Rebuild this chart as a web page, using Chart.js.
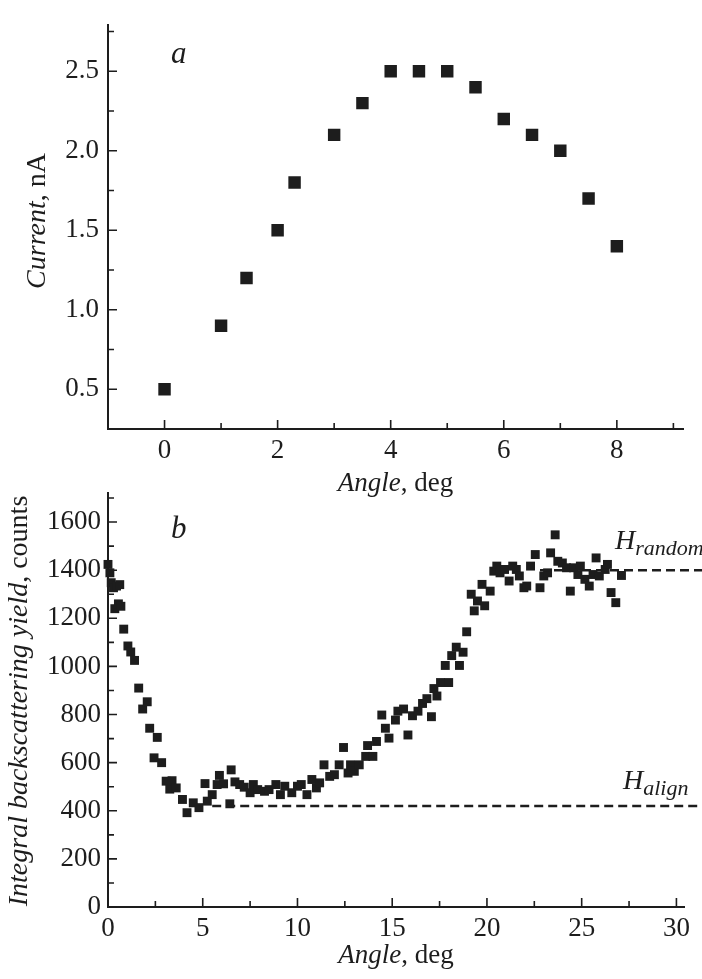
<!DOCTYPE html>
<html>
<head>
<meta charset="utf-8">
<script src="https://cdn.jsdelivr.net/npm/chart.js@4.4.0/dist/chart.umd.min.js"></script>
<style>
  html, body { margin: 0; padding: 0; background: #fff; }
  #wrap { position: relative; width: 702px; height: 979px; overflow: hidden; }
  canvas { position: absolute; left: 0; }
  #top { top: 0; }
  #bottom { top: 470px; }
</style>
</head>
<body>
<div id="wrap">
  <canvas id="top" width="702" height="500" style="width:702px;height:500px"></canvas>
  <canvas id="bottom" width="702" height="509" style="width:702px;height:509px"></canvas>
</div>
<script>
// panel a: current vs angle
const aAngle = [0, 1, 1.45, 2, 2.3, 3, 3.5, 4, 4.5, 5, 5.5, 6, 6.5, 7, 7.5, 8];
const aCurrent = [0.5, 0.9, 1.2, 1.5, 1.8, 2.1, 2.3, 2.5, 2.5, 2.5, 2.4, 2.2, 2.1, 2.0, 1.7, 1.4];
const aXMajor = [0, 2, 4, 6, 8];
const aXMinor = [1, 3, 5, 7, 9];
const aYMajor = [0.5, 1.0, 1.5, 2.0, 2.5];
const aYMinor = [0.75, 1.25, 1.75, 2.25, 2.75];

// panel b: backscattering yield vs angle
const bAngle = [
  0.0, 0.1, 0.17, 0.29, 0.36, 0.45, 0.55, 0.62, 0.68, 0.83, 1.05, 1.2, 1.4, 1.62, 1.83, 2.07,
  2.2, 2.43, 2.6, 2.83, 3.07, 3.26, 3.38, 3.6, 3.93, 4.17, 4.5, 4.8, 5.12, 5.24, 5.5, 5.76,
  5.88, 6.1, 6.43, 6.5, 6.7, 6.95, 7.19, 7.5, 7.67, 7.9, 8.26, 8.5, 8.86, 9.1, 9.33, 9.7,
  10.0, 10.2, 10.5, 10.76, 11.0, 11.17, 11.4, 11.7, 11.95, 12.2, 12.43, 12.67, 12.8, 13.0,
  13.26, 13.6, 13.7, 13.98, 14.17, 14.45, 14.64, 14.83, 15.17, 15.3, 15.6, 15.83, 16.07,
  16.36, 16.6, 16.83, 17.07, 17.2, 17.36, 17.55, 17.8, 17.98, 18.14, 18.38, 18.55, 18.74,
  18.93, 19.17, 19.33, 19.5, 19.74, 19.88, 20.17, 20.36, 20.52, 20.69, 20.93, 21.17, 21.36,
  21.55, 21.71, 21.95, 22.1, 22.3, 22.55, 22.8, 23.0, 23.2, 23.36, 23.6, 23.74, 23.98, 24.2,
  24.4, 24.57, 24.8, 24.93, 25.17, 25.4, 25.6, 25.76, 25.93, 26.24, 26.36, 26.55, 26.8, 27.1
];
const bYield = [
  1424, 1389, 1348, 1327, 1240, 1334, 1260, 1340, 1250, 1155, 1085, 1060, 1025, 910, 823, 853,
  743, 620, 705, 600, 523, 490, 525, 495, 447, 392, 433, 413, 513, 440, 467, 509,
  547, 512, 429, 570, 520, 509, 498, 475, 509, 488, 481, 488, 509, 467, 502, 475,
  502, 509, 467, 530, 495, 516, 591, 543, 550, 591, 663, 557, 591, 564,
  591, 626, 671, 626, 688, 798, 743, 702, 777, 814, 823, 715, 795,
  814, 846, 866, 791, 908, 877, 933, 1004, 933, 1045, 1080, 1004, 1059,
  1144, 1300, 1231, 1272, 1341, 1252, 1313, 1396, 1417, 1389, 1403, 1355, 1417,
  1403, 1376, 1327, 1334, 1417, 1465, 1327, 1376, 1389, 1472, 1547, 1437, 1430, 1410,
  1313, 1410, 1382, 1417, 1362, 1334, 1382, 1451, 1376, 1403, 1424, 1307, 1265, 1378
];
const hRandom = 1400;
const hRandomAngle = [22.8, 31.4];
const hAlign = 420;
const hAlignAngle = [5.5, 31.4];
const bXMajor = [0, 5, 10, 15, 20, 25, 30];
const bXMinor = [2.5, 7.5, 12.5, 17.5, 22.5, 27.5];
const bYMajor = [0, 200, 400, 600, 800, 1000, 1200, 1400, 1600];
const bYMinor = [100, 300, 500, 700, 900, 1100, 1300, 1500, 1700];

const INK = "#1d1d1d";
const SERIF = '"Liberation Serif", "DejaVu Serif", serif';
const TICK_FONT = { family: SERIF, size: 27 };

function font(style, size) {
  return `${style} ${size}px ${SERIF}`;
}

// draws mixed italic / upright pieces one after another
function drawRuns(ctx, runs, x, y, align) {
  let total = 0;
  runs.forEach((r) => {
    ctx.font = font(r.style, r.size);
    r.w = ctx.measureText(r.text).width;
    total += r.w;
  });
  let cx = align === "center" ? x - total / 2 : x;
  runs.forEach((r) => {
    ctx.font = font(r.style, r.size);
    ctx.fillText(r.text, cx, y + (r.dy || 0));
    cx += r.w;
  });
}

// inward ticks, axis titles and labels
const framePlugin = {
  id: "frame",
  beforeDatasetsDraw(chart, args, opts) {
    const { ctx } = chart;
    const x = chart.scales.x;
    const y = chart.scales.y;
    const area = chart.chartArea;
    ctx.save();
    ctx.strokeStyle = INK;
    ctx.lineWidth = 1.6;
    ctx.beginPath();
    const xTick = (v, len) => {
      const px = x.getPixelForValue(v);
      ctx.moveTo(px, area.bottom);
      ctx.lineTo(px, area.bottom - len);
    };
    const yTick = (v, len) => {
      const py = y.getPixelForValue(v);
      ctx.moveTo(area.left, py);
      ctx.lineTo(area.left + len, py);
    };
    opts.xMajor.forEach((v) => xTick(v, 9));
    opts.xMinor.forEach((v) => xTick(v, 6));
    opts.yMajor.forEach((v) => yTick(v, 9));
    opts.yMinor.forEach((v) => yTick(v, 6));
    ctx.stroke();
    ctx.restore();
  },
  afterDraw(chart, args, opts) {
    const { ctx } = chart;
    const area = chart.chartArea;
    ctx.save();
    ctx.fillStyle = INK;
    ctx.textBaseline = "middle";
    drawRuns(ctx, opts.xTitle, (area.left + area.right) / 2, opts.xTitleY, "center");
    ctx.translate(opts.yTitleX, opts.yTitleY);
    ctx.rotate(-Math.PI / 2);
    drawRuns(ctx, opts.yTitle, 0, 0, "center");
    ctx.restore();

    ctx.save();
    ctx.fillStyle = INK;
    ctx.textBaseline = "alphabetic";
    opts.notes.forEach((n) => drawRuns(ctx, n.runs, n.x, n.y, "left"));
    ctx.restore();
  },
};

function axis(min, max, major, fmt, pad, fit) {
  return {
    type: "linear",
    min,
    max,
    grid: { display: false, drawTicks: false },
    border: { display: true, color: INK, width: 2 },
    ticks: { color: INK, font: TICK_FONT, padding: pad, callback: fmt },
    afterBuildTicks: (scale) => {
      scale.ticks = major.map((v) => ({ value: v }));
    },
    afterFit: fit,
  };
}

const angleTitle = [
  { text: "Angle", style: "italic", size: 27 },
  { text: ", deg", style: "normal", size: 27 },
];

new Chart(document.getElementById("top"), {
  type: "scatter",
  data: {
    datasets: [
      {
        label: "current",
        data: aAngle.map((v, i) => ({ x: v, y: aCurrent[i] })),
        pointStyle: "rect",
        pointRadius: 8.8,
        pointBorderWidth: 0,
        backgroundColor: INK,
      },
    ],
  },
  options: {
    responsive: false,
    animation: false,
    events: [],
    layout: { padding: { left: 0, top: 13, right: 19, bottom: 0 } },
    plugins: {
      legend: { display: false },
      tooltip: { enabled: false },
      frame: {
        xMajor: aXMajor,
        xMinor: aXMinor,
        yMajor: aYMajor,
        yMinor: aYMinor,
        xTitle: angleTitle,
        xTitleY: 484,
        yTitle: [
          { text: "Current", style: "italic", size: 28 },
          { text: ", nA", style: "normal", size: 28 },
        ],
        yTitleX: 38,
        yTitleY: 221,
        notes: [{ x: 171, y: 63, runs: [{ text: "a", style: "italic", size: 31 }] }],
      },
    },
    scales: {
      x: axis(-1, 9.17, aXMajor, (v) => String(v), 6, (s) => { s.height = 71; }),
      y: axis(0.25, 2.79, aYMajor, (v) => v.toFixed(1), 9, (s) => { s.width = 108; }),
    },
  },
  plugins: [framePlugin],
});

const dashed = (xs, level) => ({
  label: "level",
  data: xs.map((v) => ({ x: v, y: level })),
  showLine: true,
  pointRadius: 0,
  borderColor: INK,
  borderWidth: 2.4,
  borderDash: [9, 5],
  clip: false,
});

new Chart(document.getElementById("bottom"), {
  type: "scatter",
  data: {
    datasets: [
      dashed(hRandomAngle, hRandom),
      dashed(hAlignAngle, hAlign),
      {
        label: "yield",
        data: bAngle.map((v, i) => ({ x: v, y: bYield[i] })),
        pointStyle: "rect",
        pointRadius: 6.3,
        pointBorderWidth: 0,
        backgroundColor: INK,
        clip: false,
      },
    ],
  },
  options: {
    responsive: false,
    animation: false,
    events: [],
    layout: { padding: { left: 0, top: 19, right: 18, bottom: 0 } },
    plugins: {
      legend: { display: false },
      tooltip: { enabled: false },
      frame: {
        xMajor: bXMajor,
        xMinor: bXMinor,
        yMajor: bYMajor,
        yMinor: bYMinor,
        xTitle: angleTitle,
        xTitleY: 486,
        yTitle: [
          { text: "Integral backscattering yield", style: "italic", size: 28 },
          { text: ", counts", style: "normal", size: 28 },
        ],
        yTitleX: 20,
        yTitleY: 231,
        notes: [
          { x: 171, y: 68, runs: [{ text: "b", style: "italic", size: 31 }] },
          {
            x: 615,
            y: 79,
            runs: [
              { text: "H", style: "italic", size: 28 },
              { text: "random", style: "italic", size: 22, dy: 6 },
            ],
          },
          {
            x: 623,
            y: 319,
            runs: [
              { text: "H", style: "italic", size: 28 },
              { text: "align", style: "italic", size: 22, dy: 6 },
            ],
          },
        ],
      },
    },
    scales: {
      x: axis(0, 30.4, bXMajor, (v) => String(v), 6, (s) => { s.height = 72; }),
      y: axis(0, 1720, bYMajor, (v) => String(v), 7, (s) => { s.width = 108; }),
    },
  },
  plugins: [framePlugin],
});
</script>
</body>
</html>
